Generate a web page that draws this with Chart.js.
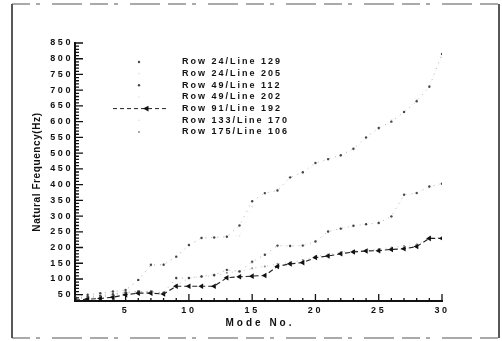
<!DOCTYPE html>
<html>
<head>
<meta charset="utf-8">
<script src="https://cdn.jsdelivr.net/npm/chart.js@4.4.0/dist/chart.umd.min.js"></script>
<style>
  html, body { margin: 0; padding: 0; background: #fff; }
</style>
</head>
<body>
<canvas id="freqChart" width="502" height="341"></canvas>
<script>
const modes = [1, 2, 3, 4, 5, 6, 7, 8, 9, 10, 11, 12, 13, 14, 15, 16, 17, 18, 19, 20, 21, 22, 23, 24, 25, 26, 27, 28, 29, 30];
const xTicks = [5, 10, 15, 20, 25, 30];
const yTicks = [50, 100, 150, 200, 250, 300, 350, 400, 450, 500, 550, 600, 650, 700, 750, 800, 850];

const row24_129 = [45, 50, 55, 60, 65, 97, 145, 145, 171, 208, 230, 232, 234, 270, 347, 373, 381, 423, 439, 469, 481, 493, 514, 550, 580, 600, 631, 665, 711, 815];
const row24_205 = [42, 48, 52, 58, 62, 95, 140, 148, 168, 205, 233, 232, 237, 237, 330, 370, 385, 420, 435, 465, 478, 490, 510, 545, 575, 605, 628, 670, 715, 805];
const row49_112 = [40, 44, 47, 52, 58, 60, 60, 56, 103, 103, 108, 113, 129, 124, 155, 177, 206, 205, 206, 219, 251, 260, 269, 274, 278, 299, 368, 373, 394, 403];
const row49_202 = [38, 43, 46, 50, 56, 62, 61, 57, 100, 104, 110, 114, 127, 126, 150, 175, 203, 208, 210, 222, 248, 262, 266, 276, 282, 295, 365, 376, 390, 400];
const row91_192 = [33, 36, 38, 42, 50, 55, 55, 52, 77, 77, 77, 77, 104, 107, 109, 111, 140, 148, 152, 168, 173, 180, 186, 189, 190, 194, 196, 203, 229, 229];
const row133_170 = [35, 38, 41, 45, 52, 57, 57, 54, 82, 100, 106, 111, 118, 122, 132, 142, 146, 150, 158, 170, 176, 183, 188, 191, 193, 198, 203, 208, 230, 231];
const row175_106 = [36, 40, 43, 47, 55, 60, 58, 55, 80, 103, 108, 110, 120, 124, 134, 140, 148, 152, 160, 172, 178, 185, 190, 192, 195, 200, 205, 210, 232, 232];

const FONT = "'Liberation Sans', Arial, sans-serif";

function pts(values) {
    return values.map((v, i) => ({ x: modes[i], y: v }));
}

// faint dotted series, like the scanned original
function dotted(label, values, lineColor, dotColor, radius) {
    return {
        label: label,
        data: pts(values),
        borderColor: lineColor,
        backgroundColor: dotColor,
        borderWidth: 1,
        borderDash: [1, 5],
        pointRadius: radius,
        pointBorderWidth: 0,
        pointBackgroundColor: dotColor,
        tension: 0
    };
}

const datasets = [
    dotted("Row 24/Line 129", row24_129, "rgba(90,90,90,0.45)", "rgba(40,40,40,0.85)", 1.2),
    dotted("Row 24/Line 205", row24_205, "rgba(200,200,200,0.3)", "rgba(190,190,190,0.5)", 0.8),
    dotted("Row 49/Line 112", row49_112, "rgba(90,90,90,0.45)", "rgba(40,40,40,0.85)", 1.2),
    dotted("Row 49/Line 202", row49_202, "rgba(200,200,200,0.3)", "rgba(190,190,190,0.5)", 0.8),
    {
        label: "Row 91/Line 192",
        data: pts(row91_192),
        borderColor: "#222",
        backgroundColor: "#111",
        borderWidth: 1.1,
        borderDash: [5, 3],
        pointStyle: "triangle",
        pointRotation: -90,
        pointRadius: 3.2,
        pointBorderWidth: 0,
        pointBackgroundColor: "#111",
        tension: 0
    },
    dotted("Row 133/Line 170", row133_170, "rgba(200,200,200,0.3)", "rgba(190,190,190,0.5)", 0.8),
    dotted("Row 175/Line 106", row175_106, "rgba(110,110,110,0.35)", "rgba(60,60,60,0.6)", 1)
];

const decorations = {
    id: "decorations",
    beforeDraw(chart) {
        const ctx = chart.ctx;
        ctx.save();
        ctx.strokeStyle = "#222";
        ctx.lineWidth = 1.5;
        ctx.beginPath();
        ctx.moveTo(12, 4); ctx.lineTo(12, 338);
        ctx.moveTo(499, 4); ctx.lineTo(499, 338);
        ctx.stroke();
        ctx.strokeStyle = "#555";
        ctx.lineWidth = 1;
        ctx.setLineDash([18, 6, 4, 12, 30, 8]);
        ctx.beginPath();
        ctx.moveTo(12, 4); ctx.lineTo(499, 4);
        ctx.moveTo(12, 338); ctx.lineTo(499, 338);
        ctx.stroke();
        ctx.restore();
        // spaced-out lettering for the tick labels
        ctx.letterSpacing = "2.6px";
    },
    afterDraw(chart) {
        const ctx = chart.ctx;
        const xs = chart.scales.x, ys = chart.scales.y;
        const area = chart.chartArea;
        ctx.save();
        ctx.letterSpacing = "0px";

        // inward minor / major ticks
        ctx.strokeStyle = "#111";
        ctx.lineWidth = 1.3;
        ctx.beginPath();
        modes.forEach(m => {
            const px = xs.getPixelForValue(m);
            const len = m % 5 === 0 ? 7 : 3;
            ctx.moveTo(px, area.bottom);
            ctx.lineTo(px, area.bottom - len);
        });
        for (let v = 30; v <= 850; v += 10) {
            const py = ys.getPixelForValue(v);
            const len = v % 50 === 0 ? 8 : 4;
            ctx.moveTo(area.left, py);
            ctx.lineTo(area.left + len, py);
        }
        ctx.stroke();

        // axis titles
        ctx.fillStyle = "#111";
        ctx.textAlign = "center";
        ctx.textBaseline = "middle";
        ctx.font = "bold 10px " + FONT;
        ctx.letterSpacing = "3px";
        ctx.fillText("Mode No.", (area.left + area.right) / 2 + 1.5, 323);
        ctx.letterSpacing = "0.6px";
        ctx.save();
        ctx.translate(37, (area.top + area.bottom) / 2);
        ctx.rotate(-Math.PI / 2);
        ctx.fillText("Natural Frequency(Hz)", 0, 0);
        ctx.restore();

        // legend inside the plot
        ctx.font = "bold 9px " + FONT;
        ctx.letterSpacing = "2px";
        ctx.textAlign = "left";
        chart.data.datasets.forEach((ds, i) => {
            const ly = area.top + 19 + i * 11.65;
            ctx.fillStyle = "#111";
            ctx.fillText(ds.label, area.left + 107, ly);
            if (ds.pointStyle === "triangle") {
                ctx.save();
                ctx.strokeStyle = ds.borderColor;
                ctx.lineWidth = 1;
                ctx.setLineDash([4, 3]);
                ctx.beginPath();
                ctx.moveTo(area.left + 38, ly);
                ctx.lineTo(area.left + 93, ly);
                ctx.stroke();
                ctx.restore();
                ctx.fillStyle = ds.pointBackgroundColor;
                ctx.beginPath();
                ctx.moveTo(area.left + 68, ly);
                ctx.lineTo(area.left + 73.5, ly - 2.8);
                ctx.lineTo(area.left + 73.5, ly + 2.8);
                ctx.closePath();
                ctx.fill();
            } else {
                ctx.fillStyle = ds.pointBackgroundColor;
                ctx.beginPath();
                ctx.arc(area.left + 64, ly, ds.pointRadius, 0, Math.PI * 2);
                ctx.fill();
            }
        });
        ctx.restore();
        ctx.letterSpacing = "0px";
    }
};

new Chart(document.getElementById("freqChart").getContext("2d"), {
    type: "line",
    data: { datasets: datasets },
    options: {
        responsive: false,
        animation: false,
        devicePixelRatio: 1,
        layout: { padding: { left: 0, right: 60, top: 43, bottom: 0 } },
        plugins: {
            legend: { display: false },
            tooltip: { enabled: false }
        },
        scales: {
            x: {
                type: "linear",
                min: 1,
                max: 30,
                afterBuildTicks: scale => { scale.ticks = xTicks.map(v => ({ value: v })); },
                afterFit: scale => { scale.height = 40; },
                grid: { display: false, drawTicks: false },
                border: { display: true, color: "#111", width: 2 },
                ticks: {
                    padding: 4,
                    color: "#111",
                    font: { family: FONT, size: 9, weight: "bold" },
                    maxRotation: 0
                }
            },
            y: {
                min: 30,
                max: 850,
                afterBuildTicks: scale => { scale.ticks = yTicks.map(v => ({ value: v })); },
                afterFit: scale => { scale.width = 75; },
                grid: { display: false, drawTicks: false },
                border: { display: true, color: "#111", width: 2 },
                ticks: {
                    padding: 2,
                    color: "#111",
                    font: { family: FONT, size: 9, weight: "bold" }
                }
            }
        }
    },
    plugins: [decorations]
});
</script>
</body>
</html>
